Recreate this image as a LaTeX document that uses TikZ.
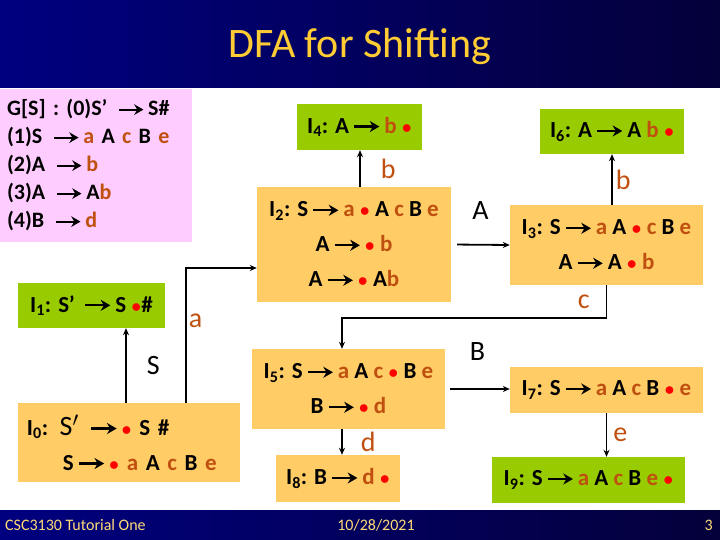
\documentclass[tikz,border=0pt]{standalone}
\usepackage{fontspec}
\setmainfont{Carlito}
\usetikzlibrary{arrows.meta, positioning}

\definecolor{navyL}{RGB}{0,0,128}
\definecolor{navyD}{RGB}{4,0,58}
\definecolor{gold}{RGB}{255,204,51}
\definecolor{cream}{RGB}{255,218,120}
\definecolor{termc}{RGB}{192,80,16}
\definecolor{kernelc}{RGB}{255,204,102}
\definecolor{acceptc}{RGB}{153,204,0}
\definecolor{gramc}{RGB}{255,204,255}

\newcommand{\tm}[1]{\textcolor{termc}{#1}}
\newcommand{\itm}{\textcolor{red}{\scalebox{0.8}{$\bullet$}}}
\newcommand{\goes}{\,\tikz[baseline=0pt]\draw[line width=0.1em,
  -{Stealth[length=0.42em, width=0.48em]}] (0pt,0.29em) -- (1.1em,0.29em);\,}

\begin{document}
\begin{tikzpicture}[x=1pt, y=-1pt,
    itemset/.style={fill=kernelc, inner sep=0pt, align=center,
                    font=\fontsize{23}{35}\selectfont\bfseries},
    goal/.style={itemset, fill=acceptc},
    grammar/.style={fill=gramc, minimum width=192pt, minimum height=153pt,
                    text width=178pt, inner xsep=7pt, align=left,
                    font=\fontsize{22}{28}\selectfont\bfseries},
    arr/.style={-{Stealth[length=7pt, width=6pt]}, line width=1.8pt},
    lbl/.style={inner sep=0pt, font=\fontsize{28}{28}\selectfont},
    foot/.style={text=cream, inner sep=0pt, font=\fontsize{16}{16}\selectfont}
]
\useasboundingbox (0,0) rectangle (720,540);
\shade[left color=navyL, right color=navyD] (0,0) rectangle (720,88);
\shade[left color=navyL, right color=navyD] (0,510) rectangle (720,540);

\node[text=gold, font=\fontsize{42}{42}\selectfont] (title) at (360,47) {DFA for Shifting};

% grammar
\node[grammar] (G) at (96,165.5) {G[S] : (0)S’ \goes S\#\\
  (1)S \goes\tm{a} A \tm{c} B \tm{e}\\
  (2)A \goes\tm{b}\\
  (3)A \goes A\tm{b}\\
  (4)B \goes\tm{d}};

% item sets
\node[goal, minimum width=147pt, minimum height=45pt] (I1) at (91.5,305.5)
  {I\textsubscript{1}: S’ \goes S \itm\#};
\node[itemset, minimum width=222pt, minimum height=79pt, text width=204pt,
      inner xsep=9pt, align=left] (I0) at (129,442.5)
  {I\textsubscript{0}: {\mdseries\fontsize{28}{28}\selectfont S$'$} \goes\itm\ S \#\\
   \hspace*{36pt}S\goes\itm\ \tm{a} A \tm{c} B \tm{e}};
\node[goal, minimum width=125pt, minimum height=46pt] (I4) at (359.5,127)
  {I\textsubscript{4}: A\goes\tm{b} \itm};
\node[itemset, minimum width=194pt, minimum height=115pt] (I2) at (354,244.5)
  {I\textsubscript{2}: S\goes\tm{a} \itm\ A \tm{c} B \tm{e}\\
   A\goes\itm\ \tm{b}\\
   A\goes\itm\ A\tm{b}};
\node[goal, minimum width=144pt, minimum height=45pt] (I6) at (612,131.5)
  {I\textsubscript{6}: A\goes A \tm{b} \itm};
\node[itemset, minimum width=193pt, minimum height=80pt] (I3) at (606.5,245)
  {I\textsubscript{3}: S\goes\tm{a} A \itm\ \tm{c} B \tm{e}\\
   A\goes A \itm\ \tm{b}};
\node[itemset, minimum width=193pt, minimum height=80pt] (I5) at (348.5,389)
  {I\textsubscript{5}: S\goes\tm{a} A \tm{c} \itm\ B \tm{e}\\
   B\goes\itm\ \tm{d}};
\node[itemset, minimum width=124pt, minimum height=47pt] (I8) at (338,478.5)
  {I\textsubscript{8}: B\goes\tm{d} \itm};
\node[itemset, minimum width=193pt, minimum height=46pt] (I7) at (606.5,390)
  {I\textsubscript{7}: S\goes\tm{a} A \tm{c} B \itm\ \tm{e}};
\node[goal, minimum width=193pt, minimum height=46pt] (I9) at (588.5,480)
  {I\textsubscript{9}: S\goes\tm{a} A \tm{c} B \tm{e} \itm};

% bends of the transitions
\coordinate (sx) at (126,0);
\coordinate (abend) at (186,268);
\coordinate (bx) at (360,0);
\coordinate (cbend) at (342,318);

% transitions
\draw[arr] (I0.north -| sx) -- node[lbl, right=20pt] {S} (I1.south -| sx);
\draw[arr] (I0.north -| abend) -- node[lbl, right=2pt, pos=.61, text=termc] {a} (abend)
  -- (I2.west |- abend);
\draw[arr] (I2.north -| bx) -- node[lbl, right=20pt, text=termc] {b} (I4.south -| bx);
\draw[arr, shorten <=6pt] (I2.east) -- node[lbl, above=24pt] {A} (I3.west);
\draw[arr] (I3.north -| I6.south) -- node[lbl, right=3pt, text=termc] {b} (I6.south);
\draw[arr] (I3.south) |- node[lbl, left=16pt, pos=.25, text=termc] {c} (cbend)
  -- (I5.north -| cbend);
\draw[arr, shorten <=5pt] (I5.east) -- node[lbl, above=28pt] {B} (I7.west |- I5.east);
\draw[arr] (I5.south -| cbend) -- node[lbl, right=18pt, text=termc] {d} (I8.north -| cbend);
\draw[arr] (I7.south) -- node[lbl, right=6pt, text=termc] {e} (I9.north -| I7.south);

% footer
\node[foot, anchor=west] (course) at (5,525) {CSC3130 Tutorial One};
\node[foot] (date) at (376,525) {10/28/2021};
\node[foot, anchor=east] (page) at (713,525) {3};
\end{tikzpicture}
\end{document}
